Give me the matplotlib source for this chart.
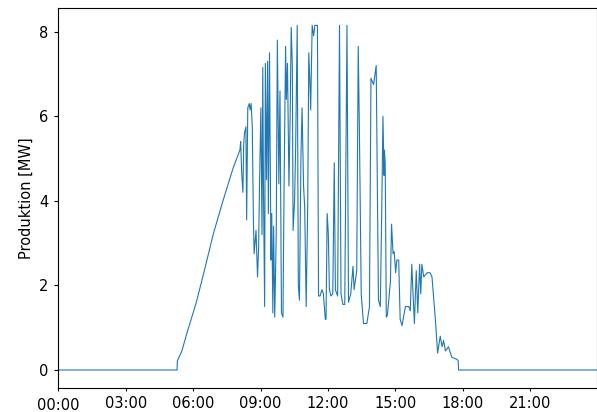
import datetime as dt
import matplotlib
matplotlib.use("Agg")
import matplotlib.pyplot as plt
import matplotlib.dates as mdates
from matplotlib.ticker import FixedLocator

# time of day (HH:MM) and production in MW
times = [
    "00:00", "05:17", "05:18", "05:30", "05:43", "06:00", "06:10", "06:30", "06:54", "07:18",
    "07:47", "08:05", "08:07", "08:10", "08:13", "08:15", "08:17", "08:21", "08:23", "08:26",
    "08:30", "08:32", "08:35", "08:38", "08:41", "08:43", "08:48", "08:52", "08:55", "08:57",
    "09:01", "09:04", "09:06", "09:08", "09:11", "09:13", "09:16", "09:19", "09:21", "09:24",
    "09:28", "09:30", "09:33", "09:35", "09:38", "09:42", "09:45", "09:49", "09:52", "09:56",
    "10:00", "10:03", "10:07", "10:09", "10:12", "10:16", "10:19", "10:22", "10:25", "10:27",
    "10:31", "10:34", "10:38", "10:41", "10:44", "10:48", "10:51", "10:55", "10:58", "11:02",
    "11:06", "11:09", "11:12", "11:14", "11:18", "11:22", "11:25", "11:32", "11:35", "11:39",
    "11:44", "11:48", "11:53", "11:55", "11:58", "12:01", "12:04", "12:08", "12:13", "12:17",
    "12:20", "12:26", "12:31", "12:35", "12:40", "12:45", "12:51", "12:55", "13:01", "13:07",
    "13:10", "13:17", "13:21", "13:24", "13:26", "13:29", "13:35", "13:44", "13:51", "13:55",
    "14:02", "14:09", "14:15", "14:20", "14:24", "14:27", "14:30", "14:31", "14:33", "14:36",
    "14:39", "14:47", "14:50", "14:54", "14:57", "15:01", "15:04", "15:09", "15:13", "15:18",
    "15:27", "15:36", "15:40", "15:44", "15:51", "15:56", "16:00", "16:05", "16:08", "16:11",
    "16:16", "16:25", "16:33", "16:38", "16:47", "16:53", "17:00", "17:05", "17:09", "17:14",
    "17:22", "17:31", "17:45", "17:48", "17:49", "24:00",
]
produktion = [
    0.0, 0.0, 0.22, 0.45, 0.86, 1.35, 1.65, 2.35, 3.22, 3.95,
    4.78, 5.2, 5.4, 4.6, 4.2, 5.3, 5.6, 5.75, 3.55, 6.2,
    6.3, 6.15, 6.3, 5.75, 3.55, 2.75, 3.3, 2.2, 2.9, 4.2,
    6.2, 3.2, 7.15, 4.25, 1.5, 7.25, 4.5, 7.3, 3.7, 7.5,
    2.6, 3.7, 1.35, 3.4, 1.25, 3.2, 7.8, 4.4, 6.6, 1.35,
    1.25, 4.4, 7.65, 6.4, 7.25, 4.35, 5.9, 8.1, 7.2, 3.3,
    4.0, 5.35, 8.15, 2.0, 1.65, 5.05, 6.2, 4.35, 3.85, 1.5,
    3.85, 7.5, 6.8, 6.15, 8.15, 7.9, 8.15, 8.15, 1.75, 1.75,
    1.9, 1.8, 1.2, 1.2, 3.7, 3.25, 1.9, 1.75, 1.8, 4.9,
    1.9, 1.75, 8.15, 1.8, 1.55, 1.55, 8.15, 1.6, 1.8, 2.45,
    1.9, 2.35, 7.65, 5.75, 4.25, 1.8, 1.1, 1.1, 1.5, 6.9,
    6.75, 7.2, 1.65, 1.5, 3.9, 6.0, 4.6, 5.2, 4.9, 1.25,
    1.3, 2.1, 3.45, 2.75, 2.8, 2.3, 2.6, 2.6, 1.2, 1.05,
    1.5, 1.5, 1.4, 2.5, 1.1, 2.35, 1.35, 2.5, 1.8, 2.5,
    2.2, 2.3, 2.3, 2.2, 1.2, 0.4, 0.8, 0.55, 0.7, 0.45,
    0.55, 0.3, 0.25, 0.22, 0.0, 0.0,
]

day = dt.datetime(2021, 6, 1)


def to_dt(s):
    h, m = s.split(":")
    return day + dt.timedelta(hours=int(h), minutes=int(m))


x = [to_dt(s) for s in times]

fig = plt.figure(figsize=(5.97, 4.12), dpi=100)
ax = fig.add_axes([0.0977, 0.059, 0.9031, 0.9209])

ax.plot(x, produktion, color="#1f77b4", linewidth=0.8)

ax.set_xlim(day, day + dt.timedelta(hours=24))
ax.set_ylim(-0.418, 8.553)
ax.set_yticks([0, 2, 4, 6, 8])
ax.set_ylabel("Produktion [MW]", fontsize=10.5)

# 00:00 as major tick (drawn a bit lower), the other hours as minor ticks
ax.xaxis.set_major_locator(FixedLocator([mdates.date2num(day)]))
ax.xaxis.set_major_formatter(mdates.DateFormatter("%H:%M"))
ax.xaxis.set_minor_locator(FixedLocator(
    [mdates.date2num(day + dt.timedelta(hours=h)) for h in range(3, 24, 3)]))
ax.xaxis.set_minor_formatter(mdates.DateFormatter("%H:%M"))

ax.tick_params(axis="x", which="major", length=2.5, width=0.8, pad=5.2, labelsize=10.5)
ax.tick_params(axis="x", which="minor", length=2.5, width=0.8, pad=3.4, labelsize=10.5)
ax.tick_params(axis="y", length=3, width=0.8, pad=4, labelsize=10.5)

fig.savefig("out.png", dpi=100)
